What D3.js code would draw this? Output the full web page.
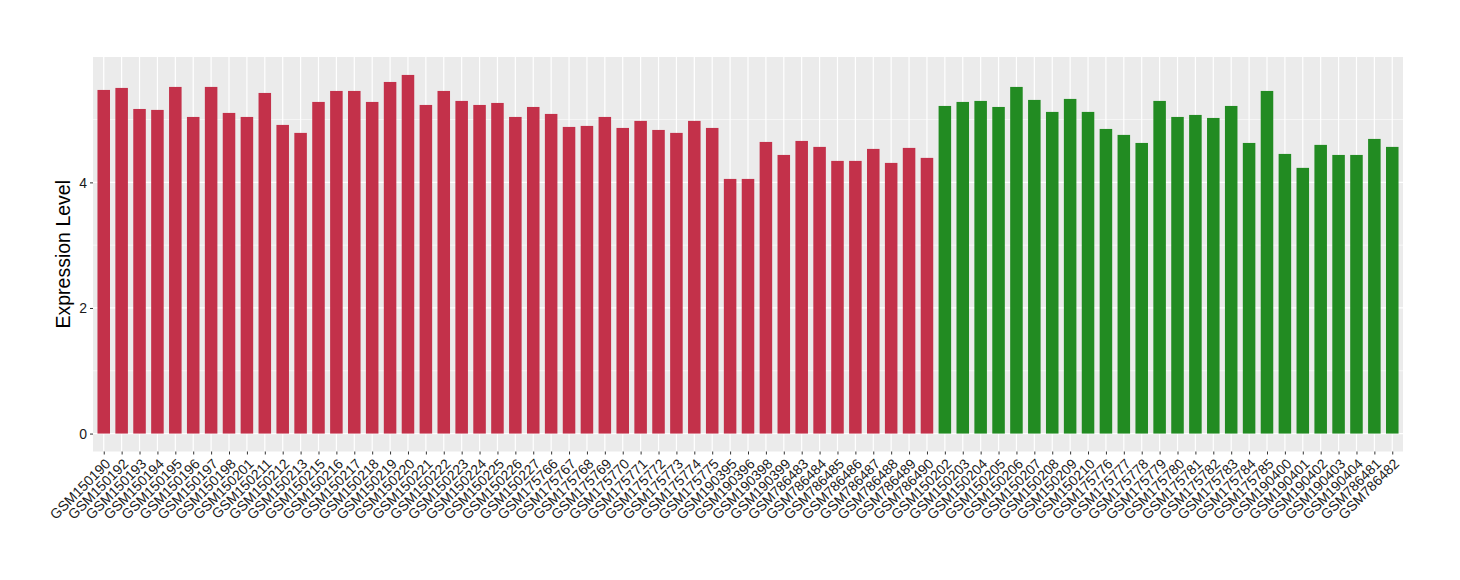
<!DOCTYPE html>
<html><head><meta charset="utf-8">
<script src="https://cdn.jsdelivr.net/npm/d3@7"></script>
<style>body{margin:0;background:#fff}svg{display:block}text{font-family:"Liberation Sans",Arial,Helvetica,sans-serif}</style>
</head><body>
<script>
const categories = ["GSM150190","GSM150192","GSM150193","GSM150194","GSM150195","GSM150196","GSM150197","GSM150198","GSM150201","GSM150211","GSM150212","GSM150213","GSM150215","GSM150216","GSM150217","GSM150218","GSM150219","GSM150220","GSM150221","GSM150222","GSM150223","GSM150224","GSM150225","GSM150226","GSM150227","GSM175766","GSM175767","GSM175768","GSM175769","GSM175770","GSM175771","GSM175772","GSM175773","GSM175774","GSM175775","GSM190395","GSM190396","GSM190398","GSM190399","GSM786483","GSM786484","GSM786485","GSM786486","GSM786487","GSM786488","GSM786489","GSM786490","GSM150202","GSM150203","GSM150204","GSM150205","GSM150206","GSM150207","GSM150208","GSM150209","GSM150210","GSM175776","GSM175777","GSM175778","GSM175779","GSM175780","GSM175781","GSM175782","GSM175783","GSM175784","GSM175785","GSM190400","GSM190401","GSM190402","GSM190403","GSM190404","GSM786481","GSM786482"];
const values = [5.472,5.504,5.169,5.154,5.520,5.042,5.520,5.106,5.042,5.424,4.915,4.788,5.281,5.456,5.456,5.281,5.599,5.711,5.233,5.456,5.297,5.233,5.265,5.042,5.201,5.090,4.883,4.899,5.042,4.867,4.979,4.835,4.788,4.979,4.867,4.055,4.055,4.644,4.437,4.660,4.565,4.342,4.342,4.533,4.310,4.549,4.390,5.217,5.281,5.297,5.201,5.520,5.313,5.122,5.329,5.122,4.851,4.756,4.628,5.297,5.042,5.074,5.026,5.217,4.628,5.456,4.453,4.231,4.597,4.437,4.437,4.692,4.565];
const groups = ["A","A","A","A","A","A","A","A","A","A","A","A","A","A","A","A","A","A","A","A","A","A","A","A","A","A","A","A","A","A","A","A","A","A","A","A","A","A","A","A","A","A","A","A","A","A","A","B","B","B","B","B","B","B","B","B","B","B","B","B","B","B","B","B","B","B","B","B","B","B","B","B","B"];
const groupColors = {A:"#C3314A", B:"#228B22"};
const yTicks = [0,2,4];
const yMinor = [1,3,5];

const W=1460,H=580;
const panel={left:93,right:1403,top:57,bottom:451.5};
const svg=d3.select("body").append("svg").attr("width",W).attr("height",H);

const maxV=d3.max(values);
const y=d3.scaleLinear().domain([-0.05*maxV,maxV*1.05]).range([panel.bottom,panel.top]);
const n=categories.length;
const step=(panel.right-panel.left)/(n-1+1.2);
const x=d3.scalePoint().domain(categories).range([panel.left+0.6*step,panel.right-0.6*step]);
const bw=step*0.7;

svg.append("rect").attr("x",panel.left).attr("y",panel.top).attr("width",panel.right-panel.left).attr("height",panel.bottom-panel.top).attr("fill","#EBEBEB");
const g=svg.append("g");
g.selectAll(".ymin").data(yMinor).enter().append("line").attr("x1",panel.left).attr("x2",panel.right).attr("y1",d=>y(d)).attr("y2",d=>y(d)).attr("stroke","#fff").attr("stroke-width",0.6);
g.selectAll(".ymaj").data(yTicks).enter().append("line").attr("x1",panel.left).attr("x2",panel.right).attr("y1",d=>y(d)).attr("y2",d=>y(d)).attr("stroke","#fff").attr("stroke-width",1.2);
g.selectAll(".xmaj").data(categories).enter().append("line").attr("y1",panel.top).attr("y2",panel.bottom).attr("x1",d=>x(d)).attr("x2",d=>x(d)).attr("stroke","#fff").attr("stroke-width",1.2);

g.selectAll(".bar").data(categories).enter().append("rect")
  .attr("x",d=>x(d)-bw/2).attr("width",bw)
  .attr("y",(d,i)=>y(values[i])).attr("height",(d,i)=>y(0)-y(values[i]))
  .attr("fill",(d,i)=>groupColors[groups[i]]);

// y axis
const ya=svg.append("g").attr("transform",`translate(${panel.left},0)`)
  .call(d3.axisLeft(y).tickValues(yTicks).tickSize(3).tickPadding(3).tickFormat(d3.format("d")));
ya.select(".domain").remove();
ya.selectAll(".tick line").attr("stroke","#333");
ya.selectAll(".tick text").attr("fill","#1a1a1a").style("font-size","14px").attr("dy","0.35em");

// x axis
const xa=svg.append("g").attr("transform",`translate(0,${panel.bottom})`)
  .call(d3.axisBottom(x).tickSize(3).tickPadding(0));
xa.select(".domain").remove();
xa.selectAll(".tick line").attr("stroke","#333");
xa.selectAll(".tick text").attr("fill","#1a1a1a").style("font-size","14px")
  .attr("text-anchor","end").attr("y",0).attr("dy","0.72em")
  .attr("transform","translate(0,6) rotate(-45)");

svg.append("text").attr("transform",`translate(70,${(panel.top+panel.bottom)/2}) rotate(-90)`)
  .attr("text-anchor","middle").style("font-size","19.5px").attr("fill","#000").text("Expression Level");
</script>
</body></html>
